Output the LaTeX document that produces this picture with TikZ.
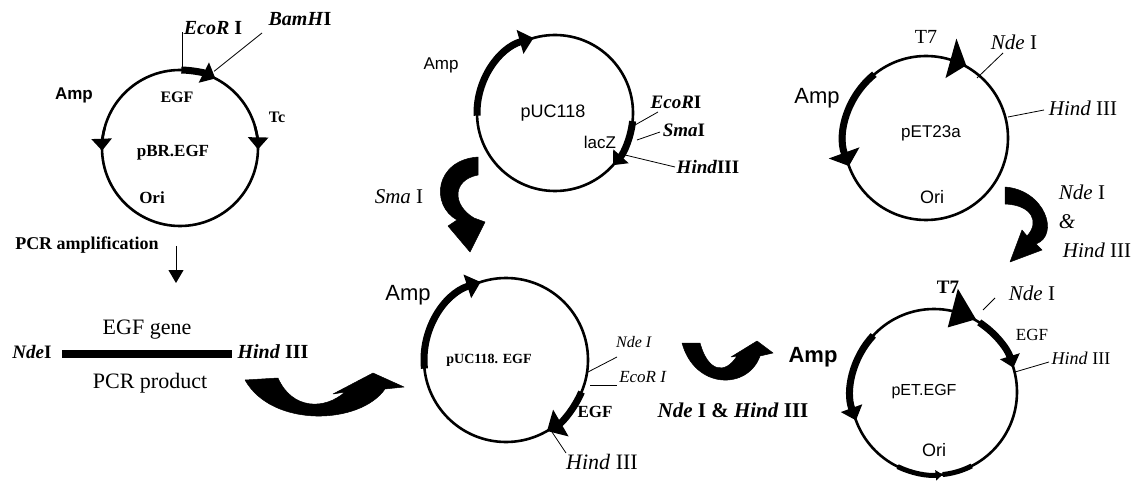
\documentclass[tikz,border=0pt]{standalone}
\usepackage{fontspec}
\setmainfont{Liberation Serif}
\setsansfont{Liberation Sans}
\usetikzlibrary{arrows.meta,calc}
\newcommand\fs[1]{\fontsize{#1}{#1}\selectfont}
\begin{document}
\begin{tikzpicture}[x=1pt,y=1pt,
  ring/.style={line width=2.6pt},
  seg/.style={line width=7pt},
  tick/.style={line width=0.8pt},
  lbl/.style={inner sep=0pt,anchor=center},
  swoosh/.style={fill=black,draw=black,line width=0.5pt,line join=round},
  bighead/.style={-{Triangle[length=14pt,width=24pt]}},
  midhead/.style={-{Triangle[length=12pt,width=20pt]}}]
\useasboundingbox (0,0) rectangle (1138,480);

%% ---------------- pBR.EGF ----------------
\coordinate (c1) at (180,332);
\draw[ring] (c1) circle[radius=78];
\draw[seg,-{Triangle[length=13pt,width=22pt]}] (c1) ++(89:78) arc[start angle=89,end angle=63,radius=78];
\draw[ring,midhead] (c1) ++(165:78) arc[start angle=165,end angle=182,radius=78];
\draw[ring,midhead] (c1) ++(16:78) arc[start angle=16,end angle=-1,radius=78];
\coordinate (e1a) at ($(c1)+(88.5:78)$);
\coordinate (e1b) at ($(e1a)+(0,38)$);
\draw[tick] (e1a) -- (e1b);
\coordinate (b1a) at ($(c1)+(66:84)$);
\coordinate (b1b) at (262,447);
\draw[tick] (b1a) -- (b1b);
\node[lbl,font=\fs{20}\bfseries] (ecoR1) at (213,452) {\textit{EcoR} I};
\node[lbl,font=\fs{20}\bfseries] (bamH1) at (300,461) {\textit{BamH}I};
\node[lbl,font=\sffamily\fs{17}\bfseries] (amp1) at (74,385) {Amp};
\node[lbl,font=\fs{16}\bfseries] (egf1) at (177,383) {EGF};
\node[lbl,font=\fs{16}\bfseries] (tc1) at (277,363) {Tc};
\node[lbl,font=\fs{17}\bfseries] (name1) at (173,327) {pBR.EGF};
\node[lbl,font=\fs{17}\bfseries] (ori1) at (152,282) {Ori};
\node[lbl,font=\fs{18}\bfseries] (pcr) at (87,235) {PCR amplification};
\coordinate (pa) at (176,234);
\coordinate (pb) at (176,197);
\draw[line width=1pt,-{Triangle[length=13pt,width=15pt]}] (pa) -- (pb);

%% ---------------- PCR product ----------------
\coordinate (barL) at (62,126);
\coordinate (barR) at (232,126);
\draw[line width=8pt] (barL) -- (barR);
\node[lbl,font=\fs{22}] (gene) at (147,150) {EGF gene};
\node[lbl,font=\fs{22}] (prod) at (150,97) {PCR product};
\node[lbl,font=\fs{19}\bfseries] (ndeP) at (32,128) {\textit{Nde}I};
\node[lbl,font=\fs{20}\bfseries] (hindP) at (273,128) {\textit{Hind} III};

%% swoosh PCR -> pUC118.EGF
\fill[swoosh] (245,100) -- (278,102) .. controls (292,70) and (325,70) .. (345,88)
  -- (333,86) -- (373,107) -- (404,93) -- (385,91) .. controls (360,55) and (272,52) .. (245,100) -- cycle;

%% ---------------- pUC118 ----------------
\coordinate (c2) at (555,367);
\draw[ring] (c2) circle[radius=78];
\draw[seg,bighead] (c2) ++(182:78) arc[start angle=182,end angle=106,radius=78];
\draw[seg,midhead] (c2) ++(-6:78) arc[start angle=-6,end angle=-42,radius=78];
\coordinate (u1a) at (635,355); \coordinate (u1b) at (658,368);
\coordinate (u2a) at (637,340); \coordinate (u2b) at (660,348);
\coordinate (u3a) at (625,325); \coordinate (u3b) at (675,313);
\draw[tick] (u1a) -- (u1b);
\draw[tick] (u2a) -- (u2b);
\draw[tick] (u3a) -- (u3b);
\node[lbl,font=\sffamily\fs{17}] (amp2) at (441,415) {Amp};
\node[lbl,font=\sffamily\fs{18}] (name2) at (553,367) {pUC118};
\node[lbl,font=\sffamily\fs{17}] (lacz) at (600,338) {lacZ};
\node[lbl,font=\fs{19}\bfseries] (ecoR2) at (676,378) {\textit{EcoR}I};
\node[lbl,font=\fs{19}\bfseries] (sma2) at (684,350) {\textit{Sma}I};
\node[lbl,font=\fs{19}\bfseries] (hind2) at (708,313) {\textit{Hind}III};

%% swoosh Sma I
\fill[swoosh] (478,323) .. controls (435,320) and (430,275) .. (457,260) -- (448,254)
  -- (470,228) -- (485,258) -- (474,262) .. controls (452,275) and (452,300) .. (478,305) -- cycle;
\node[lbl,font=\fs{21}] (smaL) at (399,283) {\textit{Sma} I};

%% ---------------- pET23a ----------------
\coordinate (c3) at (926,342);
\draw[ring] (c3) circle[radius=82];
\fill (c3) ++(73:104) -- ($(c3)+(61:83)$) -- ($(c3)+(72:63)$) -- cycle;
\draw[seg,{Triangle[length=14pt,width=32pt]}-] (c3) ++(200:82) arc[start angle=200,end angle=129,radius=82];
\coordinate (n3a) at (977,402); \coordinate (n3b) at (1003,427);
\coordinate (h3a) at (1008,363); \coordinate (h3b) at (1044,370);
\draw[tick] (n3a) -- (n3b);
\draw[tick] (h3a) -- (h3b);
\node[lbl,font=\fs{20}] (t7a) at (926,443) {T7};
\node[lbl,font=\fs{21}] (nde3) at (1014,438) {\textit{Nde} I};
\node[lbl,font=\fs{21}] (hind3) at (1083,372) {\textit{Hind} III};
\node[lbl,font=\sffamily\fs{22}] (amp3) at (817,382) {Amp};
\node[lbl,font=\sffamily\fs{17}] (name3) at (931,347) {pET23a};
\node[lbl,font=\sffamily\fs{18}] (ori3) at (932,283) {Ori};

%% swoosh Nde I & Hind III (right)
\fill[swoosh] (1005,293) .. controls (1045,290) and (1060,245) .. (1036,236) -- (1042,230)
  -- (1010,218) -- (1022,250) -- (1027,244) .. controls (1040,258) and (1032,275) .. (1005,276) -- cycle;
\node[lbl,font=\fs{21}] (ndeR) at (1082,288) {\textit{Nde} I};
\node[lbl,font=\fs{21}] (ampR) at (1067,258) {\textit{\&}};
\node[lbl,font=\fs{21}] (hindR) at (1097,230) {\textit{Hind} III};

%% ---------------- pUC118.EGF ----------------
\coordinate (c4) at (506,120);
\draw[ring] (c4) circle[radius=82];
\draw[seg,bighead] (c4) ++(186:82) arc[start angle=186,end angle=108,radius=82];
\draw[seg,-{Triangle[length=16pt,width=30pt]}] (c4) ++(-23:82) arc[start angle=-23,end angle=-60,radius=82];
\coordinate (n4a) at (588,108); \coordinate (n4b) at (617,123);
\coordinate (e4a) at (590,95); \coordinate (e4b) at (617,95);
\coordinate (h4a) at (552,48); \coordinate (h4b) at (566,27);
\draw[tick] (n4a) -- (n4b);
\draw[tick] (e4a) -- (e4b);
\draw[tick] (h4a) -- (h4b);
\node[lbl,font=\sffamily\fs{22}] (amp4) at (408,185) {Amp};
\node[lbl,font=\fs{14}\bfseries] (name4) at (489,120) {pUC118. EGF};
\node[lbl,font=\fs{16}] (nde4) at (634,138) {\textit{Nde I}};
\node[lbl,font=\fs{17}] (eco4) at (643,103) {\textit{EcoR I}};
\node[lbl,font=\fs{17}\bfseries] (egf4) at (595,68) {EGF};
\node[lbl,font=\fs{22}] (hind4) at (602,18) {\textit{Hind} III};

%% swoosh middle
\fill[swoosh] (682,137) -- (700,137) .. controls (708,108) and (725,105) .. (737,124)
  -- (731,123) -- (757,139) -- (773,127) -- (760,124) .. controls (748,90) and (695,90) .. (682,137) -- cycle;
\node[lbl,font=\fs{21}\bfseries] (midL) at (733,70) {\textit{Nde} I \& \textit{Hind} III};

%% ---------------- pET.EGF ----------------
\coordinate (c5) at (934,88);
\draw[ring] (c5) circle[radius=83];
\fill (c5) ++(77:106) -- ($(c5)+(60:84)$) -- ($(c5)+(78:66)$) -- cycle;
\draw[seg,midhead] (c5) ++(57:83) arc[start angle=57,end angle=17,radius=83];
\draw[seg,{Triangle[length=13pt,width=22pt]}-] (c5) ++(200:83) arc[start angle=200,end angle=137,radius=83];
\draw[line width=5pt,-{Triangle[length=7pt,width=10pt]}] (c5) ++(244:83) arc[start angle=244,end angle=276,radius=83];
\draw[line width=5pt] (c5) ++(276:83) arc[start angle=276,end angle=297,radius=83];
\coordinate (n5a) at (983,170); \coordinate (n5b) at (995,182);
\coordinate (h5a) at (1015,108); \coordinate (h5b) at (1049,118);
\draw[tick] (n5a) -- (n5b);
\draw[tick] (h5a) -- (h5b);
\node[lbl,font=\fs{19}\bfseries] (t7b) at (948,193) {T7};
\node[lbl,font=\fs{21}] (nde5) at (1032,187) {\textit{Nde} I};
\node[lbl,font=\fs{17}] (egf5) at (1032,145) {EGF};
\node[lbl,font=\fs{18}] (hind5) at (1081,122) {\textit{Hind} III};
\node[lbl,font=\sffamily\fs{22}\bfseries] (amp5) at (813,123) {Amp};
\node[lbl,font=\sffamily\fs{16}] (name5) at (924,88) {pET.EGF};
\node[lbl,font=\sffamily\fs{18}] (ori5) at (934,30) {Ori};
\end{tikzpicture}
\end{document}
